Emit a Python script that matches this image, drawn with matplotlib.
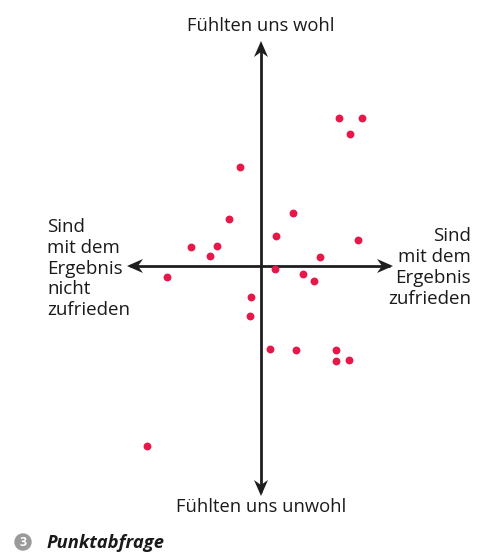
import matplotlib
matplotlib.use("Agg")
import matplotlib.pyplot as plt
from matplotlib.patches import Circle, Polygon

# Data: positions relative to the axes crossing (arbitrary units)
x_vals = [7.8, 10.1, 8.9, -2.1, -3.2, 3.2, 1.5, 9.7, -7.0, -4.4, -5.1, 5.9,
          -9.4, 1.4, 4.2, 5.3, -1.0, -1.1, 0.9, 3.5, 7.5, 7.5, 8.8, -11.4]
y_vals = [14.8, 14.8, 13.2, 9.9, 4.7, 5.3, 3.0, 2.6, 1.9, 2.0, 1.0, 0.9,
          -1.1, -0.3, -0.8, -1.5, -3.1, -5.0, -8.3, -8.4, -8.4, -9.5, -9.4, -18.0]

label_top = "Fühlten uns wohl"
label_bottom = "Fühlten uns unwohl"
label_left = ["Sind", "mit dem", "Ergebnis", "nicht", "zufrieden"]
label_right = ["Sind", "mit dem", "Ergebnis", "zufrieden"]
caption_num = "3"
caption = "Punktabfrage"

W, H = 478, 554
cx, cy = 261, 266  # pixel position of the crossing
fig = plt.figure(figsize=(W / 100, H / 100), dpi=100)
ax = fig.add_axes([0, 0, 1, 1])
ax.set_xlim(-cx / 10, (W - cx) / 10)
ax.set_ylim(-(H - cy) / 10, cy / 10)
ax.axis("off")


def px(x, y):
    return ((x - cx) / 10, (cy - y) / 10)


font = "Open Sans"
txt = "#1a1a1a"
axc = "#1e1e1e"

# axis lines
ax.plot([px(130, 0)[0], px(390, 0)[0]], [0, 0], color=axc, lw=2.0,
        solid_capstyle="butt")
ax.plot([0, 0], [px(0, 45)[1], px(0, 492)[1]], color=axc, lw=2.0,
        solid_capstyle="butt")


def head(tip, direction):
    # stealth-like arrowhead in pixel space
    tx, ty = tip
    dx, dy = direction
    L, hw, notch = 16, 7, 5
    nx, ny = -dy, dx
    pts = [(tx, ty),
           (tx - dx * L + nx * hw, ty - dy * L + ny * hw),
           (tx - dx * (L - notch), ty - dy * (L - notch)),
           (tx - dx * L - nx * hw, ty - dy * L - ny * hw)]
    ax.add_patch(Polygon([px(*p) for p in pts], closed=True, color=axc,
                         lw=0, zorder=2))


head((261, 41), (0, -1))
head((261, 496), (0, 1))
head((127, 266), (-1, 0))
head((393, 266), (1, 0))

ax.scatter(x_vals, y_vals, s=32, color="#E8174A", zorder=3, linewidths=0)

ax.text(*px(261, 31), label_top, ha="center", va="baseline", fontsize=13.2,
        family=font, color=txt)
ax.text(*px(261, 512), label_bottom, ha="center", va="baseline",
        fontsize=13.2, family=font, color=txt)
for i, s in enumerate(label_left):
    ax.text(*px(47, 232 + i * 20.8), s, ha="left", va="baseline",
            fontsize=13.5, family=font, color=txt)
for i, s in enumerate(label_right):
    ax.text(*px(471, 241 + i * 21), s, ha="right", va="baseline",
            fontsize=13.5, family=font, color=txt)

# caption
ax.add_patch(Circle(px(23, 542), 0.8, color="#9a9a9a"))
ax.text(*px(23, 542.5), caption_num, ha="center", va="center", fontsize=9,
        family=font, weight="bold", color="white")
ax.text(*px(47, 548), caption, ha="left", va="baseline", fontsize=13.2,
        family=font, weight="bold", style="italic", color=txt)

fig.savefig("out.png", dpi=100)
